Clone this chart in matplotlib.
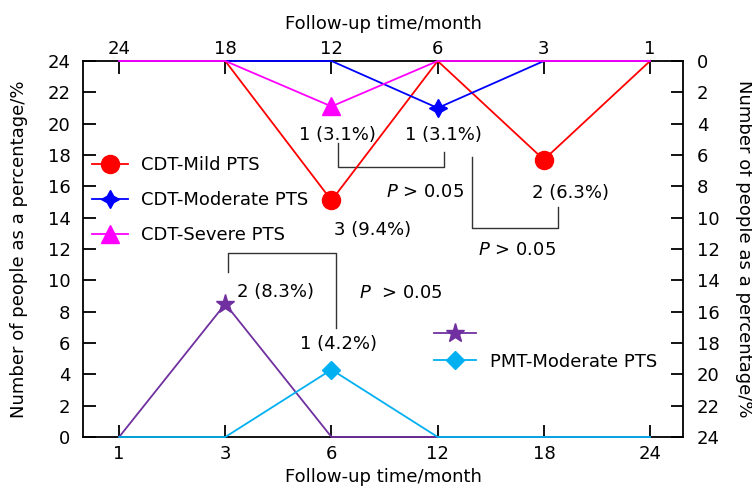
import numpy as np
import matplotlib
matplotlib.use("Agg")
import matplotlib.pyplot as plt

plt.rcParams['font.family'] = ['DejaVu Sans']
plt.rcParams['font.size'] = 13

# bottom axis (PMT), left y
months = ["1", "3", "6", "12", "18", "24"]
pmt_mild = [0, 8.5, 0, 0, 0, 0]
pmt_moderate = [0, 0, 4.3, 0, 0, 0]

# top axis (CDT), right y (inverted)
top_months = ["24", "18", "12", "6", "3", "1"]
cdt_mild = [0, 0, 8.9, 0, 6.3, 0]
cdt_moderate = [0, 0, 0, 3.0, 0, 0]
cdt_severe = [0, 0, 2.9, 0, 0, 0]

W, H = 752, 487
fig = plt.figure(figsize=(W / 100, H / 100), dpi=100)
rect = [83 / W, 1 - 437 / H, (683 - 83) / W, (437 - 61) / H]
ax = fig.add_axes(rect)
ax2 = fig.add_axes(rect, frameon=False)

xb = np.arange(len(months))
xt = np.arange(len(top_months))
xlim = (-0.34, 5.31)
lk = dict(lw=1.3, clip_on=False, zorder=3)

# bottom / left
ax.plot(xb, pmt_mild, color="#7030a0", marker="*", ms=14, markevery=[1], **lk)
ax.plot(xb, pmt_moderate, color="#00b0f0", marker="D", ms=9, markevery=[2], **lk)
ax.set_xlim(*xlim)
ax.set_ylim(0, 24)
ax.set_yticks(range(0, 25, 2))
ax.set_xticks(xb)
ax.set_xticklabels(months)
ax.tick_params(direction="in", length=9, width=1.3, top=False, right=False)
ax.tick_params(axis="x", pad=6)
ax.tick_params(axis="y", pad=9)
ax.set_xlabel("Follow-up time/month", labelpad=3)
ax.set_ylabel("Number of people as a percentage/%", labelpad=14)
for s in ax.spines.values():
    s.set_linewidth(1.3)

# top / right
l_mild, = ax2.plot(xt, cdt_mild, color="#ff0000", marker="o", ms=13, markevery=[2, 4], **lk)
l_mod, = ax2.plot(xt, cdt_moderate, color="#0000ff", marker=(4, 1, 0), ms=13, markevery=[3], **lk)
l_sev, = ax2.plot(xt, cdt_severe, color="#ff00ff", marker="^", ms=13, markevery=[2], **lk)
ax2.set_xlim(*xlim)
ax2.set_ylim(24, 0)
ax2.xaxis.tick_top()
ax2.xaxis.set_label_position("top")
ax2.yaxis.tick_right()
ax2.yaxis.set_label_position("right")
ax2.set_xticks(xt)
ax2.set_xticklabels(top_months)
ax2.set_yticks(range(0, 25, 2))
ax2.tick_params(direction="in", length=9, width=1.3, bottom=False, left=False,
                labelbottom=False, labelleft=False)
ax2.tick_params(axis="x", pad=2)
ax2.tick_params(axis="y", pad=10)
ax2.set_xlabel("Follow-up time/month", labelpad=8)
ax2.set_ylabel("Number of people as a percentage/%", rotation=-90, labelpad=24)

# legends
leg1 = ax.legend([l_mild, l_mod, l_sev], ["CDT-Mild PTS", "CDT-Moderate PTS", "CDT-Severe PTS"],
                 loc="center left", bbox_to_anchor=(92 / W, 1 - 200 / H),
                 bbox_transform=fig.transFigure, frameon=False, borderpad=0,
                 borderaxespad=0, handlelength=2.0, handletextpad=0.7, labelspacing=0.95,
                 fontsize=13)
ax.add_artist(leg1)
h_pm, = ax.plot([], [], color="#7030a0", lw=1.3, marker="*", ms=14)
h_pmod, = ax.plot([], [], color="#00b0f0", lw=1.3, marker="D", ms=9)
leg2 = ax.legend([h_pm, h_pmod], ["", "PMT-Moderate PTS"],
                 loc="center left", bbox_to_anchor=(434 / W, 1 - 348 / H),
                 bbox_transform=fig.transFigure, frameon=False, borderpad=0,
                 borderaxespad=0, handlelength=2.3, handletextpad=0.8, labelspacing=0.5,
                 fontsize=13)

# annotations (bottom axes data coords)
def bracket(pts):
    xs, ys = zip(*pts)
    ax.plot(xs, ys, color="#333333", lw=1, clip_on=False)

bracket([(2.06, 18.76), (2.06, 17.23), (3.06, 17.23), (3.06, 18.19)])
bracket([(3.32, 17.87), (3.32, 13.34), (4.13, 13.34), (4.13, 14.68)])
bracket([(1.03, 10.53), (1.03, 11.74), (2.04, 11.74), (2.04, 6.96)])

notes = [
    (2.06, 19.27, "1 (3.1%)"),
    (3.05, 19.27, "1 (3.1%)"),
    (2.88, 15.63, "$P$ > 0.05"),
    (2.39, 13.21, "3 (9.4%)"),
    (4.25, 15.57, "2 (6.3%)"),
    (3.75, 11.93, "$P$ > 0.05"),
    (1.47, 9.25, "2 (8.3%)"),
    (2.65, 9.19, "$P$  > 0.05"),
    (2.07, 5.93, "1 (4.2%)"),
]
for x, y, t in notes:
    ax.text(x, y, t, ha="center", va="center", fontsize=13)

fig.savefig("out.png", dpi=100)
